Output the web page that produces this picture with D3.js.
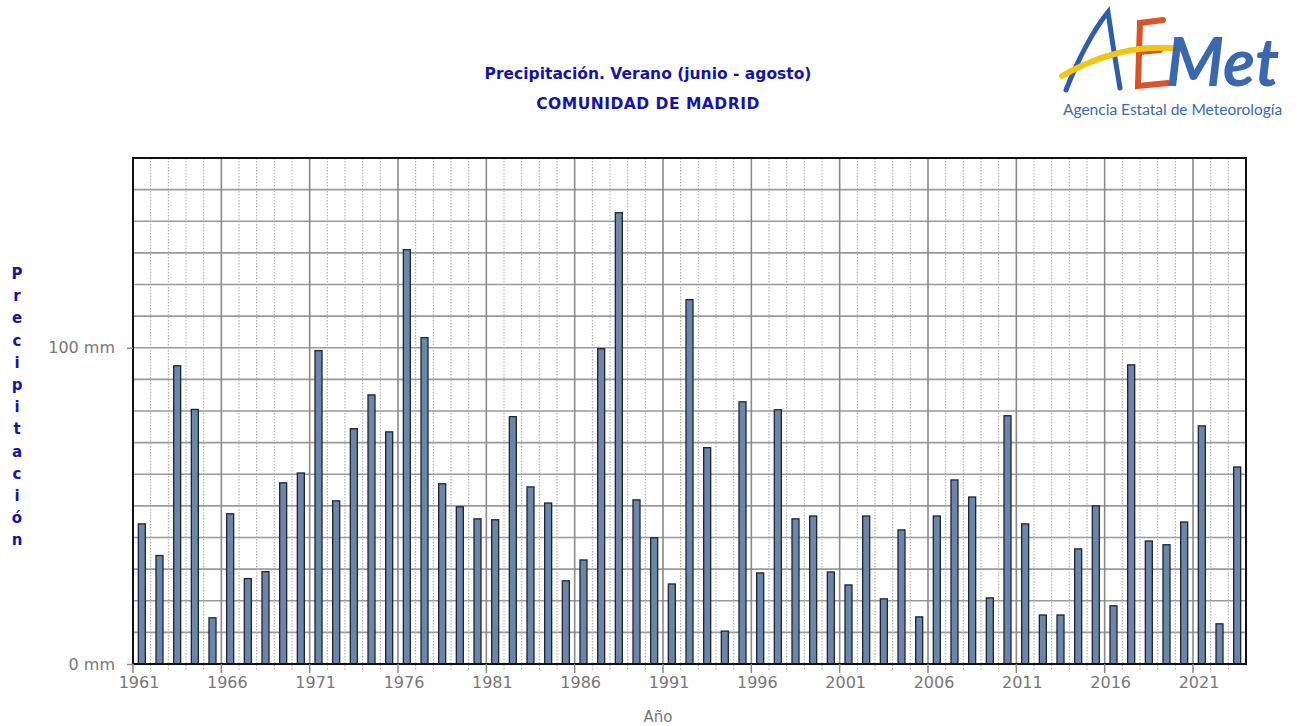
<!DOCTYPE html>
<meta charset="utf-8">
<style>
  body { margin: 0; background: #fff; font-family: "DejaVu Sans", sans-serif; }
  .title { font-family: "DejaVu Sans", sans-serif; font-weight: bold; fill: #1414a8; font-size: 15.5px; }
  .tick text { fill: #777; font-size: 16px; font-family: "DejaVu Sans", sans-serif; }
</style>
<body>
<script src="https://d3js.org/d3.v7.min.js"></script>
<script>
// summer precipitation (mm), Comunidad de Madrid
var years = d3.range(1961, 2024);
var precip = [44.3, 34.3, 94.3, 80.5, 14.6, 47.5, 27.0, 29.2, 57.3, 60.4,
              99.1, 51.6, 74.4, 85.1, 73.4, 131.0, 103.2, 57.0, 49.7, 45.9,
              45.6, 78.2, 56.0, 50.9, 26.3, 32.9, 99.7, 142.7, 51.9, 39.9,
              25.3, 115.2, 68.4, 10.4, 82.9, 28.8, 80.4, 45.9, 46.8, 29.1,
              25.0, 46.8, 20.6, 42.4, 14.9, 46.8, 58.2, 52.8, 20.9, 78.5,
              44.3, 15.5, 15.5, 36.4, 50.0, 18.4, 94.6, 38.9, 37.7, 44.9,
              75.3, 12.7, 62.3];
var yTicks = [0, 100];
var yLabel = "Precipitación";

var W = 1301, H = 726;
var pL = 133, pR = 1246, pT = 158, pB = 664;

var svg = d3.select("body").append("svg").attr("width", W).attr("height", H);

var x = d3.scaleBand().domain(years).range([pL, pR]).paddingInner(0);
var y = d3.scaleLinear().domain([0, 160]).range([pB, pT]);

// horizontal grid every 10 mm
svg.append("g").selectAll("line").data(d3.range(10, 160, 10)).join("line")
  .attr("x1", pL).attr("x2", pR)
  .attr("y1", d => y(d)).attr("y2", d => y(d))
  .attr("stroke", "#9a9a9a").attr("stroke-width", 1.6);

// vertical grid: dotted at each year boundary, solid every 5 years
svg.append("g").selectAll("line").data(years.slice(1)).join("line")
  .attr("x1", d => x(d)).attr("x2", d => x(d))
  .attr("y1", pT).attr("y2", d => (d - 1961) % 5 == 0 ? pB : pB + 6)
  .attr("stroke", d => (d - 1961) % 5 == 0 ? "#8a8a8a" : "#a8a8a8")
  .attr("stroke-width", d => (d - 1961) % 5 == 0 ? 1.6 : 1)
  .attr("stroke-dasharray", d => (d - 1961) % 5 == 0 ? null : "1.5,1.5");

// bars
svg.append("g").selectAll("rect").data(precip).join("rect")
  .attr("x", (d, i) => x(years[i]) + x.bandwidth() / 2 - 3.5)
  .attr("width", 7)
  .attr("y", d => y(d))
  .attr("height", d => pB - y(d))
  .attr("fill", "#6c86aa")
  .attr("stroke", "#1c2433").attr("stroke-width", 1.3);

// frame
svg.append("rect").attr("x", pL).attr("y", pT)
  .attr("width", pR - pL).attr("height", pB - pT)
  .attr("fill", "none").attr("stroke", "#111").attr("stroke-width", 2);

// x axis: ticks at category starts every 5 years
var xAxis = d3.axisBottom(x)
  .tickValues(years.filter(d => (d - 1961) % 5 == 0))
  .tickSize(9).tickPadding(4);
var gx = svg.append("g").attr("transform", "translate(0," + pB + ")").call(xAxis);
gx.select(".domain").remove();
gx.selectAll(".tick").attr("transform", d => "translate(" + x(d) + ",0)");
gx.selectAll(".tick line").attr("stroke", "#8a8a8a").attr("stroke-width", 1.5);
gx.selectAll(".tick text").attr("dx", 6);

// y axis
var yAxis = d3.axisLeft(y).tickValues(yTicks).tickFormat(d => d + " mm").tickSize(6).tickPadding(12);
var gy = svg.append("g").attr("transform", "translate(" + pL + ",0)").call(yAxis);
gy.select(".domain").remove();
gy.selectAll(".tick line").attr("stroke", "#8a8a8a").attr("stroke-width", 1.5);

// axis titles
svg.append("text").attr("x", 658).attr("y", 722).attr("text-anchor", "middle")
  .attr("fill", "#777").style("font-size", "15px").text("Año");

svg.append("g").selectAll("text").data(yLabel.split("")).join("text")
  .attr("class", "title")
  .attr("x", 17).attr("y", (d, i) => 279 + i * 22.2)
  .attr("text-anchor", "middle").style("font-size", "15px")
  .text(d => d);

// title
svg.append("text").attr("class", "title").attr("x", 648).attr("y", 79)
  .attr("text-anchor", "middle").text("Precipitación. Verano (junio - agosto)");
svg.append("text").attr("class", "title").attr("x", 648).attr("y", 109)
  .attr("text-anchor", "middle").style("letter-spacing", "0.5px").text("COMUNIDAD DE MADRID");

// AEMET logo
var logo = svg.append("g").attr("transform", "translate(1060,0)");
logo.append("path").attr("d", "M6,90 C18,60 32,32 48,12 C52,40 56,65 60,88")
  .attr("fill", "none").attr("stroke", "#2f5da8").attr("stroke-width", 5).attr("stroke-linecap", "round");
logo.append("path").attr("d", "M103,20 L80,23 L78,86 L108,83 M79,52 L100,50")
  .attr("fill", "none").attr("stroke", "#d9532a").attr("stroke-width", 6).attr("stroke-linecap", "round");
logo.append("path").attr("d", "M2,76 C30,60 60,50 90,48 C105,47 115,48 124,50")
  .attr("fill", "none").attr("stroke", "#f2c618").attr("stroke-width", 6).attr("stroke-linecap", "round");
logo.append("text").attr("x", 106).attr("y", 86)
  .attr("fill", "#3a68b0").style("font-family", "Lato, sans-serif").style("font-style", "italic")
  .style("font-size", "66px").style("font-weight", "bold").text("Met");
logo.append("text").attr("x", 3).attr("y", 115)
  .attr("fill", "#3a68b0").style("font-family", "Lato, sans-serif").style("font-size", "15.5px")
  .text("Agencia Estatal de Meteorología");
</script>
</body>
